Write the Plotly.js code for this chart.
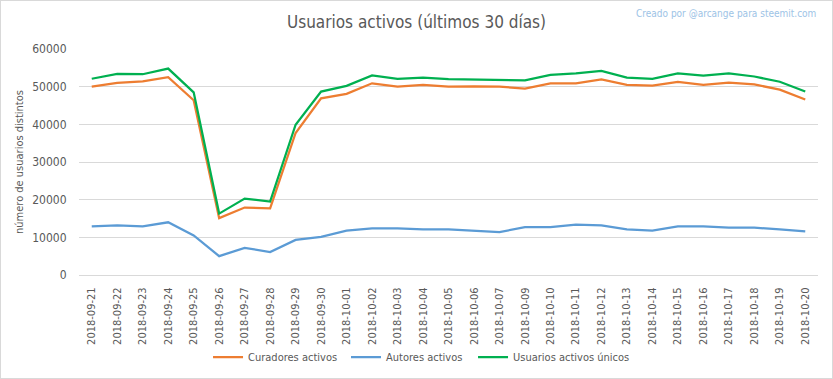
<!DOCTYPE html>
<html>
<head>
<meta charset="utf-8">
<script src="https://cdn.plot.ly/plotly-3.0.1.min.js"></script>
<style>
html,body{margin:0;padding:0;background:#fff;}
#wrap{position:relative;width:833px;height:379px;}
#chart{position:absolute;left:0;top:0;width:833px;height:379px;}
#frame{position:absolute;left:0;top:0;width:833px;height:379px;box-sizing:border-box;border:1px solid #D9D9D9;pointer-events:none;}
</style>
</head>
<body>
<div id="wrap"><div id="chart"></div><div id="frame"></div></div>
<script>
const fechas = ["2018-09-21","2018-09-22","2018-09-23","2018-09-24","2018-09-25","2018-09-26","2018-09-27","2018-09-28","2018-09-29","2018-09-30","2018-10-01","2018-10-02","2018-10-03","2018-10-04","2018-10-05","2018-10-06","2018-10-07","2018-10-09","2018-10-10","2018-10-11","2018-10-12","2018-10-13","2018-10-14","2018-10-15","2018-10-16","2018-10-17","2018-10-18","2018-10-19","2018-10-20"];
const curadores = [50000,51000,51400,52500,46400,15100,17900,17700,37700,46900,48100,50900,50000,50500,50000,50100,50000,49500,50900,50900,51900,50500,50300,51300,50500,51100,50600,49200,46600];
const autores = [12900,13200,12900,14000,10500,5000,7200,6100,9300,10100,11800,12400,12400,12100,12100,11700,11400,12700,12700,13400,13200,12100,11800,12900,12900,12600,12600,12100,11600];
const unicos = [52100,53400,53300,54800,48500,16300,20300,19500,39900,48700,50200,53000,52100,52400,52000,51900,51700,51700,53100,53500,54200,52400,52100,53500,52900,53500,52700,51300,48700];
const yTicks = [0,10000,20000,30000,40000,50000,60000];

const FONT = '"Liberation Sans Narrow", "DejaVu Sans Condensed", "Liberation Sans", sans-serif';

const data = [
  {x: fechas, y: curadores, name: 'Curadores activos', type: 'scatter', mode: 'lines',
   line: {color: '#ED7D31', width: 2.25}, legend: 'legend'},
  {x: fechas, y: autores, name: 'Autores activos', type: 'scatter', mode: 'lines',
   line: {color: '#5B9BD5', width: 2.25}, legend: 'legend2'},
  {x: fechas, y: unicos, name: 'Usuarios activos únicos', type: 'scatter', mode: 'lines',
   line: {color: '#00B050', width: 2.25}, legend: 'legend3'}
];

function leg(x) {
  return {orientation: 'h', x: x, xanchor: 'left', y: -0.363, yanchor: 'middle', bgcolor: 'rgba(0,0,0,0)',
    font: {family: FONT, size: 11, color: '#595959'}, itemwidth: 30};
}

const layout = {
  width: 833, height: 379,
  margin: {l: 79, r: 15, t: 49, b: 104, autoexpand: false},
  paper_bgcolor: 'rgba(0,0,0,0)', plot_bgcolor: 'rgba(0,0,0,0)',
  font: {family: FONT, color: '#595959', size: 11},
  title: {text: 'Usuarios activos (últimos 30 días)', x: 0.5, xanchor: 'center', y: 0.942, yanchor: 'middle',
    font: {family: FONT, size: 17, color: '#595959'}},
  showlegend: true,
  legend: leg(0.1746),
  legend2: leg(0.3613),
  legend3: leg(0.5332),
  xaxis: {type: 'category', range: [-0.5, fechas.length - 0.5], tickangle: -90, showgrid: false, zeroline: false,
    showline: false, ticks: 'outside', ticklen: 7, tickcolor: 'rgba(0,0,0,0)', automargin: false,
    tickfont: {family: FONT, size: 11, color: '#595959'}},
  yaxis: {range: [0, 60000], tickvals: yTicks, ticktext: yTicks.map(String), showgrid: true,
    gridcolor: '#D9D9D9', gridwidth: 1, zeroline: true, zerolinecolor: '#D9D9D9', zerolinewidth: 1,
    showline: false, ticks: 'outside', ticklen: 9, tickcolor: 'rgba(0,0,0,0)', automargin: false,
    title: {text: 'número de usuarios distintos', font: {family: FONT, size: 11, color: '#595959'}, standoff: 6},
    tickfont: {family: FONT, size: 12, color: '#595959'}},
  annotations: [
    {text: 'Creado por @arcange para steemit.com', xref: 'paper', yref: 'paper', x: 1.0, y: 1.155,
     xanchor: 'right', yanchor: 'middle', showarrow: false,
     font: {family: FONT, size: 10, color: '#9DC3E6'}}
  ]
};

Plotly.newPlot('chart', data, layout, {displayModeBar: false, staticPlot: true});
</script>
</body>
</html>
